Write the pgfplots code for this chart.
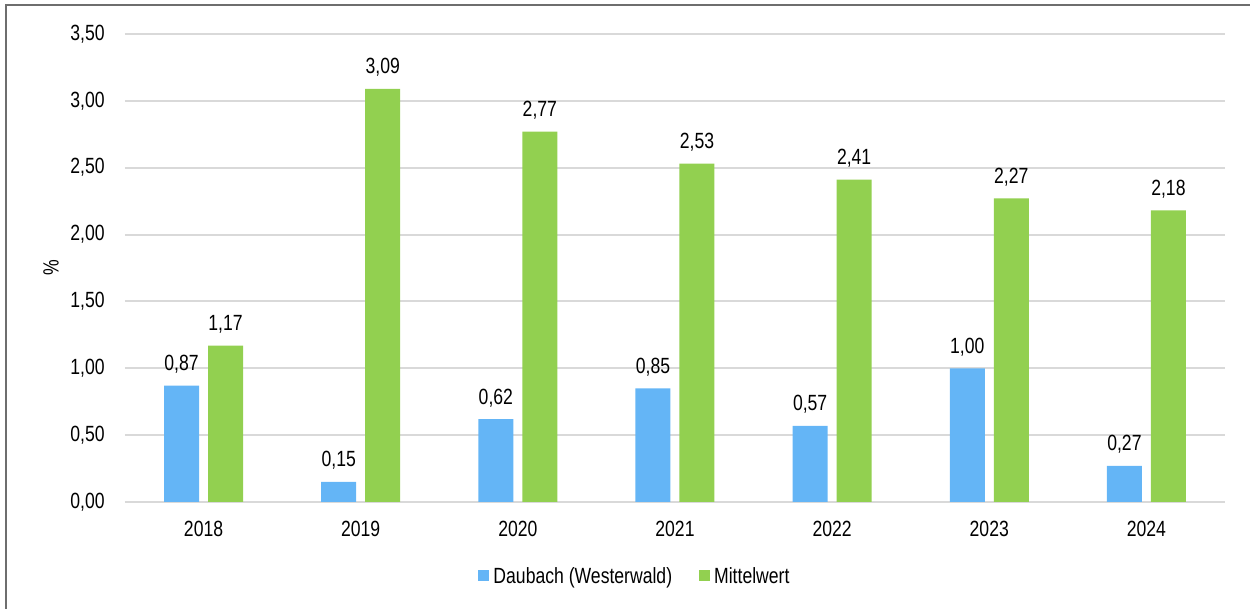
\documentclass[border=0pt]{standalone}
\usepackage{fontspec}
\setmainfont{Liberation Sans}[FakeStretch=0.8]
\usepackage{pgfplots}
\pgfplotsset{compat=1.18}
\definecolor{cblue}{RGB}{100,181,246}
\definecolor{cgreen}{RGB}{146,208,80}
\definecolor{cgrid}{RGB}{217,217,217}
\definecolor{cframe}{RGB}{110,110,110}
\begin{document}
\begin{tikzpicture}
\path[use as bounding box] (-62.5pt,-53.5pt) rectangle (562.5pt,251pt);
\draw[cframe, line width=0.75pt] (-59.5pt,-53.5pt) -- (-59.5pt,248.5pt) -- (562.5pt,248.5pt);
\begin{axis}[
  at={(0pt,0pt)}, anchor=south west,
  scale only axis, width=550pt, height=234pt,
  font=\fontsize{11}{13}\selectfont,
  ybar, bar width=17.5pt,
  xmin=-0.5, xmax=6.5, ymin=0, ymax=3.5,
  xtick=data, xticklabels={2018,2019,2020,2021,2022,2023,2024},
  ytick={0,0.5,1,1.5,2,2.5,3,3.5},
  scaled y ticks=false,
  /pgf/number format/.cd, use comma, fixed, fixed zerofill, precision=2, assume math mode=true, /pgfplots/.cd,
  axis line style={draw=none},
  tick style={draw=none},
  major tick length=0pt,
  ymajorgrids, grid style={cgrid, line width=1pt},
  y tick label style={anchor=east, inner sep=0pt, xshift=-10pt},
  x tick label style={anchor=north, inner sep=0pt, yshift=-9.5pt},
  ylabel={\%},
  every axis y label/.style={at={(axis description cs:0,0.5)}, xshift=-37pt, rotate=90, anchor=center, inner sep=0pt},
  nodes near coords={\pgfmathprintnumber[use comma,fixed,fixed zerofill,precision=2,assume math mode=true]{\pgfplotspointmeta}},
  every node near coord/.append style={anchor=base, inner sep=0pt, yshift=7.5pt, text=black, font=\fontsize{11}{13}\selectfont},
  legend style={draw=none, fill=none, at={(axis description cs:0.4627,-0.161)}, anchor=center,
    legend columns=-1, font=\fontsize{11}{13}\selectfont,
    nodes={inner sep=0pt, anchor=base},
    /tikz/every odd column/.append style={column sep=2pt},
    /tikz/every even column/.append style={column sep=13.5pt}},
  legend image code/.code={\fill[#1] (0pt,1.2pt) rectangle (5.5pt,6.7pt);},
]
\addplot[fill=cblue, draw=none, bar shift=-11pt] coordinates {(0,0.87) (1,0.15) (2,0.62) (3,0.85) (4,0.57) (5,1.00) (6,0.27)};
\addplot[fill=cgreen, draw=none, bar shift=11pt] coordinates {(0,1.17) (1,3.09) (2,2.77) (3,2.53) (4,2.41) (5,2.27) (6,2.18)};
\legend{Daubach (Westerwald),Mittelwert}
\end{axis}
\end{tikzpicture}
\end{document}
